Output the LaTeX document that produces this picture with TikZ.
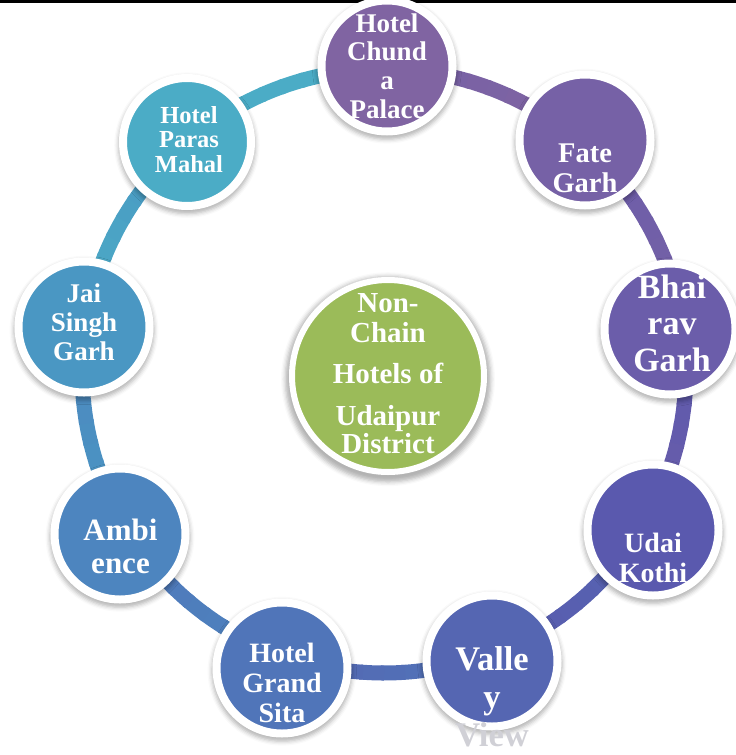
\documentclass[tikz,border=0pt]{standalone}
\usepackage{fontspec}
\setmainfont{Liberation Serif}
\usetikzlibrary{shadows.blur}
\newcommand\stk[2]{\vtop{\baselineskip=#1\relax\lineskiplimit=-1000pt\relax\lineskip=0pt\relax\halign{\hfil##\hfil\cr#2\crcr}}}
\definecolor{cA}{HTML}{8064A2}
\definecolor{cB}{HTML}{7661A6}
\definecolor{cC}{HTML}{6B5DAA}
\definecolor{cD}{HTML}{5A59AE}
\definecolor{cE}{HTML}{5566B2}
\definecolor{cF}{HTML}{5075B9}
\definecolor{cG}{HTML}{4D85BF}
\definecolor{cH}{HTML}{4A97C3}
\definecolor{cI}{HTML}{4BACC6}
\definecolor{cGreen}{HTML}{9BBB59}
\definecolor{cView}{HTML}{D0D0D6}
\begin{document}
\begin{tikzpicture}[x=1pt,y=-1pt,
  bub/.style={circle, inner sep=0pt, outer sep=0pt, minimum size=131pt, draw=white, line width=8pt,
    blur shadow={shadow xshift=0pt, shadow yshift=-3pt, shadow opacity=30, shadow blur radius=4pt, shadow scale=1.07}},
  lbl/.style={inner sep=0pt, outer sep=0pt, anchor=base, text=white}]
\useasboundingbox (0,0) rectangle (736,755);
% top rule
\coordinate (L) at (0,1.3);
\coordinate (R) at (736,1.3);
\draw[line width=2.7pt] (L) -- (R);
% ring band with colour gradient
\def\cx{384}\def\cy{371}\def\rr{302}
\foreach \k/\ca/\cb in {0/cA/cB,1/cB/cC,2/cC/cD,3/cD/cE,4/cE/cF,5/cF/cG,6/cG/cH,7/cH/cI,8/cI/cI}{
  \foreach \j in {0,...,9}{
    \pgfmathsetmacro\aa{-90+40*\k+4*\j}
    \pgfmathsetmacro\bb{\aa+4.6}
    \pgfmathsetmacro\pp{100-10*\j-5}
    \draw[line width=15pt, color=\cb!\pp!\ca] ({\cx+\rr*cos(\aa)},{\cy+\rr*sin(\aa)}) arc[start angle=\aa, end angle=\bb, radius=\rr];
  }
}
% circles
\node[bub, fill=cA] (chunda) at (387,66) {};
\node[bub, fill=cB] (fate) at (585,140) {};
\node[bub, fill=cC] (bhairav) at (670,329) {};
\node[bub, fill=cD] (udai) at (653,530) {};
\node[bub, fill=cE] (valley) at (492,661) {};
\node[bub, fill=cF] (sita) at (282,668) {};
\node[bub, fill=cG] (amb) at (120,534) {};
\node[bub, fill=cH] (jai) at (84,327) {};
\node[bub, fill=cI, minimum size=128pt] (paras) at (187,142) {};
\node[bub, fill=cGreen, minimum size=192pt, line width=6pt] (center) at (388,376) {};
% labels
\node[lbl, font=\fontsize{27}{28.7}\selectfont\bfseries] (chundaT) at (387,32) {\stk{28.7pt}{Hotel\cr Chund\cr a\cr Palace}};
\node[lbl, font=\fontsize{28.5}{30}\selectfont\bfseries] (fateT) at (585,162) {\stk{30pt}{Fate\cr Garh}};
\node[lbl, font=\fontsize{34}{36.5}\selectfont\bfseries] (bhairavT) at (672,298) {\stk{36.5pt}{Bhai\cr rav\cr Garh}};
\node[lbl, font=\fontsize{28}{30}\selectfont\bfseries] (udaiT) at (653,552) {\stk{30pt}{Udai\cr Kothi}};
\node[lbl, font=\fontsize{34.5}{38}\selectfont\bfseries] (valleyT) at (492,670) {\stk{38pt}{Valle\cr y\cr \textcolor{cView}{View}}};
\node[lbl, font=\fontsize{28}{30}\selectfont\bfseries] (sitaT) at (282,662) {\stk{30pt}{Hotel\cr Grand\cr Sita}};
\node[lbl, font=\fontsize{31}{33}\selectfont\bfseries] (ambT) at (120.5,540) {\stk{33pt}{Ambi\cr ence}};
\node[lbl, font=\fontsize{27}{29}\selectfont\bfseries] (jaiT) at (84,302) {\stk{29pt}{Jai\cr Singh\cr Garh}};
\node[lbl, font=\fontsize{24.5}{24.5}\selectfont\bfseries] (parasT) at (189,123) {\stk{24.5pt}{Hotel\cr Paras\cr Mahal}};
\node[lbl, font=\fontsize{29}{28}\selectfont\bfseries] (centerT) at (388,312) {\stk{28pt}{Non-\cr\noalign{\vskip2pt} Chain\cr\noalign{\vskip13pt} Hotels of\cr\noalign{\vskip14pt} Udaipur\cr District}};
\end{tikzpicture}
\end{document}
